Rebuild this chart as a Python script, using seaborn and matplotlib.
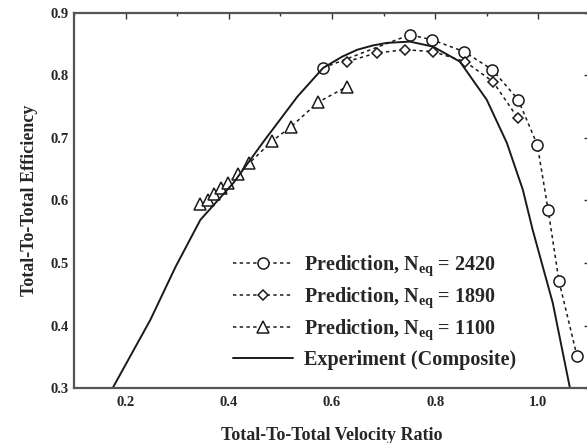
import matplotlib
matplotlib.use("Agg")
import matplotlib.pyplot as plt
import seaborn as sns
import pandas as pd
from matplotlib.ticker import MultipleLocator

# --- data ---
x_2420 = [0.583, 0.751, 0.794, 0.856, 0.911, 0.961, 0.998, 1.019, 1.040, 1.075]
y_2420 = [0.812, 0.865, 0.857, 0.838, 0.809, 0.761, 0.689, 0.585, 0.471, 0.351]

x_1890 = [0.629, 0.687, 0.742, 0.796, 0.858, 0.912, 0.960]
y_1890 = [0.822, 0.836, 0.841, 0.838, 0.822, 0.790, 0.732]

x_1100 = [0.345, 0.360, 0.372, 0.385, 0.398, 0.418, 0.440, 0.484, 0.521, 0.573, 0.629]
y_1100 = [0.594, 0.600, 0.610, 0.620, 0.628, 0.642, 0.660, 0.695, 0.718, 0.757, 0.782]

x_exp = [0.175, 0.248, 0.297, 0.345, 0.409, 0.470, 0.533, 0.583, 0.620, 0.649, 0.680, 0.707,
         0.751, 0.796, 0.848, 0.900, 0.939, 0.970, 0.989, 1.028, 1.061]
y_exp = [0.300, 0.409, 0.494, 0.569, 0.628, 0.697, 0.766, 0.812, 0.830, 0.841, 0.848, 0.852,
         0.854, 0.846, 0.822, 0.761, 0.692, 0.617, 0.553, 0.436, 0.301]

labels = [r"Prediction, N$_{\mathbf{eq}}$ = 2420",
          r"Prediction, N$_{\mathbf{eq}}$ = 1890",
          r"Prediction, N$_{\mathbf{eq}}$ = 1100",
          "Experiment (Composite)"]
xticks = [0.2, 0.4, 0.6, 0.8, 1.0]
yticks = [0.3, 0.4, 0.5, 0.6, 0.7, 0.8, 0.9]

sns.set_style("white")
plt.rcParams["font.family"] = ["Liberation Serif", "DejaVu Serif"]
plt.rcParams["font.weight"] = "bold"
plt.rcParams["mathtext.fontset"] = "custom"
plt.rcParams["mathtext.rm"] = "Liberation Serif:bold"
plt.rcParams["mathtext.bf"] = "Liberation Serif:bold"
plt.rcParams["mathtext.it"] = "Liberation Serif:bold"

fig = plt.figure(figsize=(5.87, 4.43), dpi=100)
ax = fig.add_axes([0.126, 0.124, 0.879, 0.847])

dash = (0, (2.2, 2.2))
black = "#1a1a1a"

df1 = pd.DataFrame({"x": x_2420, "y": y_2420})
df2 = pd.DataFrame({"x": x_1890, "y": y_1890})
df3 = pd.DataFrame({"x": x_1100, "y": y_1100})
df4 = pd.DataFrame({"x": x_exp, "y": y_exp})

sns.lineplot(data=df1, x="x", y="y", sort=False, ax=ax, color=black, lw=1.1,
             linestyle=dash, marker="o", markersize=8, markerfacecolor="white",
             markeredgecolor=black, markeredgewidth=1.1, label=labels[0])
sns.lineplot(data=df2, x="x", y="y", sort=False, ax=ax, color=black, lw=1.1,
             linestyle=dash, marker="D", markersize=5, markerfacecolor="white",
             markeredgecolor=black, markeredgewidth=1.1, label=labels[1])
sns.lineplot(data=df3, x="x", y="y", sort=False, ax=ax, color=black, lw=1.1,
             linestyle=dash, marker="^", markersize=8, markerfacecolor="white",
             markeredgecolor=black, markeredgewidth=1.1, label=labels[2])
sns.lineplot(data=df4, x="x", y="y", sort=False, ax=ax, color=black, lw=1.4,
             label=labels[3])

ax.set_xlim(0.1, 1.1)
ax.set_ylim(0.3, 0.9)
ax.set_xticks(xticks)
ax.set_yticks(yticks)
ax.set_xticklabels([f"{v:.1f}" for v in xticks])
ax.set_yticklabels([f"{v:.1f}" for v in yticks])
ax.xaxis.set_minor_locator(MultipleLocator(0.1))
ax.yaxis.set_minor_locator(MultipleLocator(0.05))
ax.tick_params(which="both", direction="in", top=True, right=True,
               labelsize=10.5, width=1, color="#333333")
ax.tick_params(axis="x", pad=6)
ax.tick_params(axis="y", pad=4)
ax.tick_params(which="major", length=4)
ax.tick_params(which="minor", length=2)
for s in ax.spines.values():
    s.set_linewidth(1.6)
    s.set_color("#555555")

ax.set_xlabel("Total-To-Total Velocity Ratio", fontsize=13, fontweight="bold", labelpad=13)
ax.set_ylabel("Total-To-Total Efficiency", fontsize=13, fontweight="bold", labelpad=9)

leg = ax.legend(loc="lower left", bbox_to_anchor=(0.273, 0.0), frameon=False,
                fontsize=14.5, handlelength=3.0, labelspacing=0.38, handletextpad=0.55)

fig.savefig("out.png", dpi=100)
